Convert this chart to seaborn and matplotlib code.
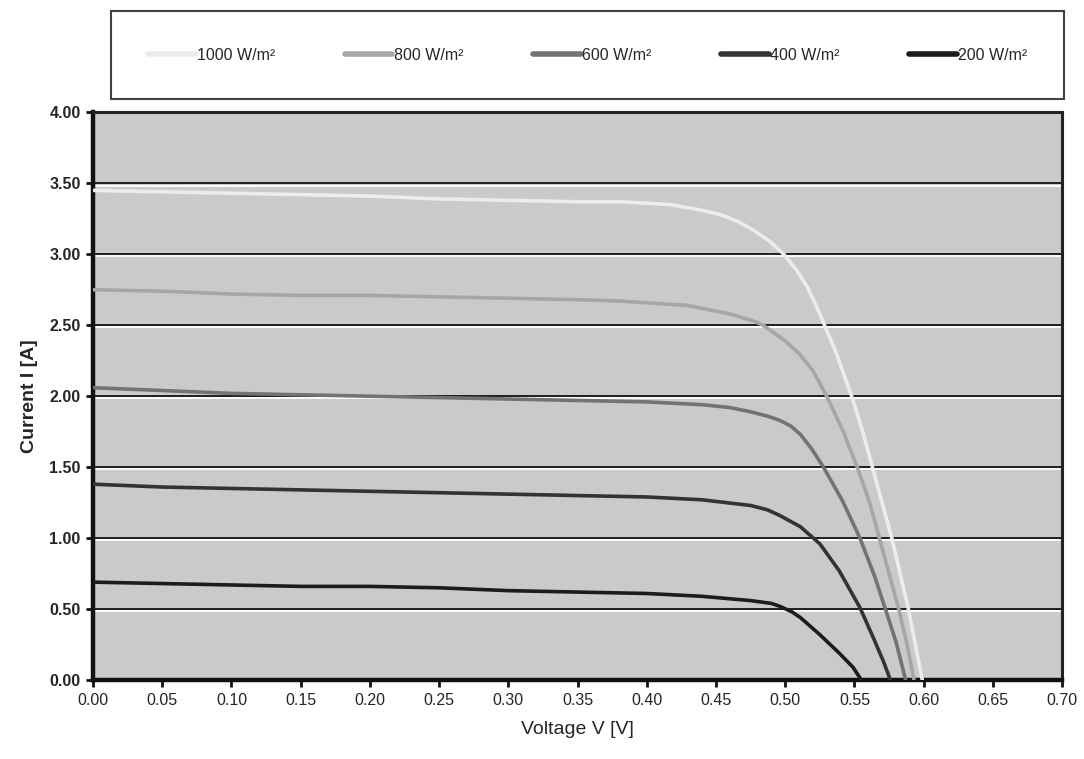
import numpy as np
import pandas as pd
import matplotlib
matplotlib.use("Agg")
import matplotlib.pyplot as plt
import matplotlib.patheffects as pe
import seaborn as sns

# ---- data ----
series_labels = ["1000 W/m²", "800 W/m²", "600 W/m²", "400 W/m²", "200 W/m²"]

v_1000 = [0.00, 0.05, 0.10, 0.15, 0.20, 0.25, 0.30, 0.35, 0.381, 0.417, 0.44, 0.453, 0.466, 0.477, 0.489,
          0.499, 0.508, 0.516, 0.525, 0.537, 0.548, 0.556, 0.563, 0.570, 0.577, 0.583, 0.589, 0.594, 0.599]
i_1000 = [3.45, 3.44, 3.43, 3.42, 3.41, 3.39, 3.38, 3.37, 3.37, 3.35, 3.31, 3.28, 3.23, 3.17, 3.09,
          3.00, 2.89, 2.77, 2.58, 2.30, 2.00, 1.75, 1.50, 1.25, 1.00, 0.75, 0.50, 0.25, 0.00]

v_800 = [0.00, 0.05, 0.10, 0.15, 0.20, 0.25, 0.30, 0.35, 0.381, 0.429, 0.46, 0.477, 0.484,
         0.50, 0.51, 0.52, 0.530, 0.542, 0.552, 0.561, 0.568, 0.575, 0.582, 0.588, 0.593]
i_800 = [2.75, 2.74, 2.72, 2.71, 2.71, 2.70, 2.69, 2.68, 2.67, 2.64, 2.58, 2.53, 2.50,
         2.39, 2.30, 2.18, 2.00, 1.75, 1.50, 1.25, 1.00, 0.75, 0.50, 0.25, 0.00]

v_600 = [0.00, 0.05, 0.10, 0.15, 0.20, 0.25, 0.30, 0.35, 0.40, 0.44, 0.46, 0.475, 0.487,
         0.496, 0.504, 0.511, 0.519, 0.527, 0.541, 0.554, 0.565, 0.572, 0.580, 0.587]
i_600 = [2.06, 2.04, 2.02, 2.01, 2.00, 1.99, 1.98, 1.97, 1.96, 1.94, 1.92, 1.89, 1.86,
         1.83, 1.79, 1.73, 1.63, 1.51, 1.27, 1.00, 0.72, 0.51, 0.27, 0.00]

v_400 = [0.00, 0.05, 0.10, 0.15, 0.20, 0.25, 0.30, 0.35, 0.40, 0.44, 0.475, 0.487, 0.496,
         0.511, 0.525, 0.539, 0.554, 0.564, 0.571, 0.576]
i_400 = [1.38, 1.36, 1.35, 1.34, 1.33, 1.32, 1.31, 1.30, 1.29, 1.27, 1.23, 1.20, 1.16,
         1.08, 0.96, 0.77, 0.51, 0.29, 0.13, 0.00]

v_200 = [0.00, 0.05, 0.10, 0.15, 0.20, 0.25, 0.30, 0.35, 0.40, 0.44, 0.475, 0.49, 0.496,
         0.505, 0.511, 0.525, 0.539, 0.549, 0.555]
i_200 = [0.69, 0.68, 0.67, 0.66, 0.66, 0.65, 0.63, 0.62, 0.61, 0.59, 0.56, 0.54, 0.52,
         0.48, 0.44, 0.32, 0.19, 0.09, 0.00]

x_ticks = [0.00, 0.05, 0.10, 0.15, 0.20, 0.25, 0.30, 0.35, 0.40, 0.45, 0.50, 0.55, 0.60, 0.65, 0.70]
y_ticks = [0.00, 0.50, 1.00, 1.50, 2.00, 2.50, 3.00, 3.50, 4.00]

colors = ["#ececec", "#a6a6a6", "#737373", "#333333", "#1c1c1c"]

# ---- build long-form table ----
frames = []
for lab, v, i in zip(series_labels,
                     [v_1000, v_800, v_600, v_400, v_200],
                     [i_1000, i_800, i_600, i_400, i_200]):
    frames.append(pd.DataFrame({"Voltage": v, "Current": i, "Irradiance": lab}))
df = pd.concat(frames, ignore_index=True)

sns.set_theme(style="white")
plt.rcParams["font.family"] = ["Liberation Sans", "DejaVu Sans"]

fig = plt.figure(figsize=(10.84, 7.59), dpi=100)
fig.patch.set_facecolor("white")
ax = fig.add_axes([0.0858, 0.104, 0.894, 0.748])
ax.set_facecolor("#cacaca")

for yt in y_ticks[1:-1]:
    ax.axhline(yt, color="#111111", lw=1.3, zorder=1,
               path_effects=[pe.SimpleLineShadow(offset=(0, -1.6), shadow_color="white",
                                                 alpha=1.0), pe.Normal()])

sns.lineplot(data=df, x="Voltage", y="Current", hue="Irradiance",
             hue_order=series_labels, palette=colors, estimator=None,
             sort=False, lw=2.6, ax=ax, legend=True, zorder=3)

ax.set_xlim(0, 0.70)
ax.set_ylim(0, 4.0)
ax.set_xticks(x_ticks)
ax.set_xticklabels([f"{t:.2f}" for t in x_ticks], fontsize=11.5)
ax.set_yticks(y_ticks)
ax.set_yticklabels([f"{t:.2f}" for t in y_ticks], fontsize=11.5, fontweight="bold")
ax.tick_params(axis="both", which="major", direction="out", length=5, width=2,
               color="#111111", pad=4, bottom=True, left=True)
ax.set_xlabel("Voltage V [V]", fontsize=14, labelpad=10)
ax.set_ylabel("Current I [A]", fontsize=14, fontweight="bold", labelpad=8)

for side in ["left", "bottom"]:
    ax.spines[side].set_linewidth(3.2)
    ax.spines[side].set_color("#111111")
for side in ["top", "right"]:
    ax.spines[side].set_linewidth(2.2)
    ax.spines[side].set_color("#222222")

handles, labels = ax.get_legend_handles_labels()
ax.get_legend().remove()
leg = fig.legend(handles, labels, loc="center",
                 bbox_to_anchor=(0.095, 0.868, 0.894, 0.119), mode="expand",
                 ncol=5, frameon=True, fancybox=False, edgecolor="#111111",
                 handlelength=3.0, handletextpad=0.1, fontsize=11.5,
                 borderpad=2.3)
leg.get_frame().set_linewidth(1.5)
leg.get_frame().set_facecolor("white")
for h in leg.get_lines():
    h.set_linewidth(4)

fig.savefig("out.png", dpi=100)
